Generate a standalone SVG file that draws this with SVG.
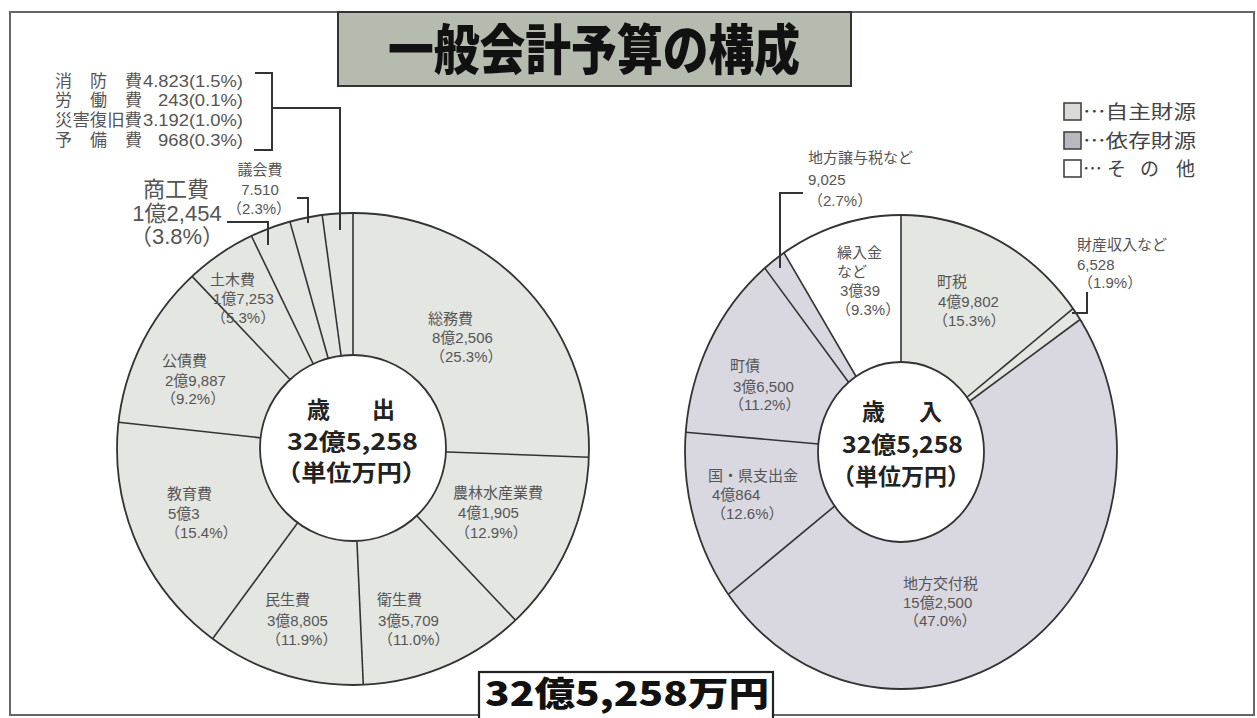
<svg xmlns="http://www.w3.org/2000/svg" width="1257" height="718" viewBox="0 0 1257 718">
<style>
.lbl{font-family:"Liberation Sans","Noto Sans CJK JP",sans-serif;font-size:15px;fill:#555}
.big{font-family:"Liberation Sans","Noto Sans CJK JP",sans-serif;font-size:22px;fill:#555}
.top{font-family:"Liberation Sans","Noto Sans CJK JP",sans-serif;font-size:17px;fill:#555}
.ctr{font-family:"Noto Sans CJK JP",sans-serif;font-weight:700;font-size:23px;fill:#222}
.leg{font-family:"Noto Sans CJK JP",sans-serif;font-size:19px;fill:#444}
.sep{stroke:#333;stroke-width:1.6;fill:none}
.ld{stroke:#333;stroke-width:2;fill:none}
</style>
<rect width="1257" height="718" fill="#fff"/>
<rect x="10" y="12" width="1244" height="703" fill="none" stroke="#666" stroke-width="2"/>

<g id="title">
<rect x="338" y="12" width="513" height="74" fill="#b5bbae" stroke="#333" stroke-width="2"/>
<text x="388" y="70" textLength="412" lengthAdjust="spacingAndGlyphs" style="font-family:'Noto Sans CJK JP',sans-serif;font-weight:900;font-size:54px;fill:#111">一般会計予算の構成</text>
</g>

<g id="legend">
<rect x="1064" y="103" width="17" height="17" fill="#d9dbd6" stroke="#444" stroke-width="1.6"/>
<rect x="1064" y="132" width="17" height="17" fill="#b9b7c0" stroke="#444" stroke-width="1.6"/>
<rect x="1064" y="160" width="17" height="17" fill="#fff" stroke="#444" stroke-width="1.6"/>
<text class="leg" x="1083" y="119" textLength="113" lengthAdjust="spacingAndGlyphs">…自主財源</text>
<text class="leg" x="1083" y="148" textLength="113" lengthAdjust="spacingAndGlyphs">…依存財源</text>
<text class="leg" x="1083 1107 1140 1176" y="176">…その他</text>
</g>

<g id="pie-left">
<circle cx="353" cy="449" r="236" fill="#e4e6e2" stroke="#333" stroke-width="1.8"/>
<line class="sep" x1="353" y1="380" x2="353" y2="213"/>
<line class="sep" x1="420" y1="451" x2="588.9" y2="457.2"/>
<line class="sep" x1="400" y1="498" x2="515.5" y2="620.2"/>
<line class="sep" x1="356" y1="520" x2="363.3" y2="684.8"/>
<line class="sep" x1="310" y1="506" x2="212.6" y2="638.7"/>
<line class="sep" x1="290" y1="441" x2="118.5" y2="422.3"/>
<line class="sep" x1="300" y1="390" x2="192.1" y2="276.4"/>
<line class="sep" x1="320" y1="378" x2="251.4" y2="236.0"/>
<line class="sep" x1="332" y1="372" x2="289.9" y2="221.6"/>
<line class="sep" x1="343" y1="370" x2="322.2" y2="215.0"/>
<circle cx="353" cy="448" r="93" fill="#fff" stroke="#333" stroke-width="1.8"/>
<text class="ctr" x="307" y="418" textLength="88" lengthAdjust="spacing">歳出</text>
<text class="ctr" x="287" y="450" textLength="131" lengthAdjust="spacingAndGlyphs">32億5,258</text>
<text class="ctr" x="276" y="481" textLength="151" lengthAdjust="spacingAndGlyphs">（単位万円）</text>
</g>

<g id="seg-soumu"><text class="lbl"><tspan x="428" y="324">総務費</tspan><tspan x="432" y="343">8億2,506</tspan><tspan x="430" y="362">（25.3%）</tspan></text></g>
<g id="seg-nourin"><text class="lbl"><tspan x="453" y="498">農林水産業費</tspan><tspan x="458" y="518">4億1,905</tspan><tspan x="455" y="538">（12.9%）</tspan></text></g>
<g id="seg-eisei"><text class="lbl"><tspan x="377" y="605">衛生費</tspan><tspan x="378" y="626">3億5,709</tspan><tspan x="378" y="645">（11.0%）</tspan></text></g>
<g id="seg-minsei"><text class="lbl"><tspan x="265" y="605">民生費</tspan><tspan x="267" y="626">3億8,805</tspan><tspan x="266" y="645">（11.9%）</tspan></text></g>
<g id="seg-kyouiku"><text class="lbl"><tspan x="167" y="499">教育費</tspan><tspan x="168" y="519">5億3</tspan><tspan x="165" y="538">（15.4%）</tspan></text></g>
<g id="seg-kousai"><text class="lbl"><tspan x="162" y="366">公債費</tspan><tspan x="165" y="386">2億9,887</tspan><tspan x="161" y="404">（9.2%）</tspan></text></g>
<g id="seg-doboku"><text class="lbl"><tspan x="210" y="285">土木費</tspan><tspan x="213" y="304">1億7,253</tspan><tspan x="211" y="323">（5.3%）</tspan></text></g>
<g id="seg-gikai"><text class="lbl" text-anchor="middle"><tspan x="260" y="175">議会費</tspan><tspan x="260" y="195">7.510</tspan><tspan x="259" y="214">（2.3%）</tspan></text></g>
<g id="seg-shoukou"><text class="big" text-anchor="middle"><tspan x="176" y="197">商工費</tspan><tspan x="177" y="221">1億2,454</tspan><tspan x="177" y="244">（3.8%）</tspan></text></g>
<g id="seg-others">
<text class="top" x="55 90 125" y="87">消防費</text><text class="top" x="143" y="87" textLength="100" lengthAdjust="spacingAndGlyphs">4.823(1.5%)</text>
<text class="top" x="55 90 125" y="106">労働費</text><text class="top" x="158" y="106" textLength="85" lengthAdjust="spacingAndGlyphs">243(0.1%)</text>
<text class="top" x="55" y="126" textLength="87" lengthAdjust="spacingAndGlyphs">災害復旧費</text><text class="top" x="143" y="126" textLength="100" lengthAdjust="spacingAndGlyphs">3.192(1.0%)</text>
<text class="top" x="55 90 125" y="146">予備費</text><text class="top" x="158" y="146" textLength="85" lengthAdjust="spacingAndGlyphs">968(0.3%)</text>
</g>

<g id="pie-right">
<ellipse cx="901" cy="452" rx="216" ry="237" fill="#d9d7df"/>
<path d="M901,452 L901,215 A216,237 0 0 1 1080.1,319.5 Z" fill="#e4e6e2"/>
<path d="M901,452 L784.0,252.8 A216,237 0 0 1 901,215 Z" fill="#fff"/>
<ellipse cx="901" cy="452" rx="216" ry="237" fill="none" stroke="#333" stroke-width="1.8"/>
<line class="sep" x1="901" y1="380" x2="901" y2="215"/>
<line class="sep" x1="960" y1="403" x2="1073.0" y2="308.7"/>
<line class="sep" x1="962" y1="407" x2="1080.1" y2="319.5"/>
<line class="sep" x1="842" y1="500" x2="728.3" y2="594.3"/>
<line class="sep" x1="830" y1="445" x2="685.8" y2="432.2"/>
<line class="sep" x1="855" y1="391" x2="764.8" y2="268.1"/>
<line class="sep" x1="861" y1="385" x2="784.0" y2="252.8"/>
<ellipse cx="901" cy="452" rx="83" ry="90" fill="#fff" stroke="#333" stroke-width="1.8"/>
<text class="ctr" x="862" y="420" textLength="80" lengthAdjust="spacing">歳入</text>
<text class="ctr" x="842" y="453" textLength="121" lengthAdjust="spacingAndGlyphs">32億5,258</text>
<text class="ctr" x="832" y="485" textLength="138" lengthAdjust="spacingAndGlyphs">（単位万円）</text>
</g>

<g id="seg-jouyo"><text class="lbl"><tspan x="808" y="163">地方譲与税など</tspan><tspan x="808" y="185">9,025</tspan><tspan x="808" y="206">（2.7%）</tspan></text></g>
<g id="seg-kurire"><text class="lbl"><tspan x="837" y="258">繰入金</tspan><tspan x="837" y="277">など</tspan><tspan x="840" y="296">3億39</tspan><tspan x="836" y="315">（9.3%）</tspan></text></g>
<g id="seg-chouzei"><text class="lbl"><tspan x="937" y="287">町税</tspan><tspan x="938" y="307">4億9,802</tspan><tspan x="933" y="326">（15.3%）</tspan></text></g>
<g id="seg-zaisan"><text class="lbl"><tspan x="1077" y="250">財産収入など</tspan><tspan x="1077" y="270">6,528</tspan><tspan x="1078" y="288">（1.9%）</tspan></text></g>
<g id="seg-chousai"><text class="lbl"><tspan x="730" y="371">町債</tspan><tspan x="733" y="392">3億6,500</tspan><tspan x="729" y="410">（11.2%）</tspan></text></g>
<g id="seg-kokken"><text class="lbl"><tspan x="708" y="481">国・県支出金</tspan><tspan x="712" y="500">4億864</tspan><tspan x="711" y="519">（12.6%）</tspan></text></g>
<g id="seg-koufu"><text class="lbl"><tspan x="903" y="589">地方交付税</tspan><tspan x="903" y="608">15億2,500</tspan><tspan x="904" y="626">（47.0%）</tspan></text></g>

<g id="connectors">
<polyline class="ld" points="255,73 272,73 272,150 254,150"/>
<polyline class="ld" points="272,108 340,108 340,230"/>
<polyline class="ld" points="297,198 308,198 308,223"/>
<polyline class="ld" points="227,222 268,222 268,245"/>
<polyline class="ld" points="803,193 780,193 780,268"/>
<polyline class="ld" points="1087,292 1087,313 1072,313"/>
</g>

<g id="total">
<rect x="479" y="672" width="294" height="50" fill="#fff" stroke="#222" stroke-width="2.2"/>
<text x="485" y="706" textLength="284" lengthAdjust="spacingAndGlyphs" style="font-family:'Noto Sans CJK JP',sans-serif;font-weight:900;font-size:34px;fill:#111">32億5,258万円</text>
</g>
</svg>
